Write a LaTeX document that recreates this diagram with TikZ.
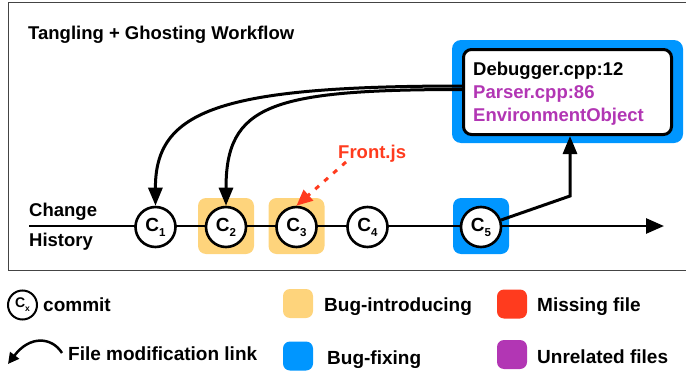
\documentclass[tikz,border=0pt]{standalone}
\usepackage{fontspec}
\setmainfont{Liberation Sans}[BoldFont={Liberation Sans Bold}]
\usetikzlibrary{arrows.meta,calc}
\definecolor{bugorange}{HTML}{FED47C}
\definecolor{bugblue}{HTML}{0096FF}
\definecolor{missred}{HTML}{FF3B1E}
\definecolor{unrelpurple}{HTML}{B236B4}
\definecolor{framegray}{HTML}{444444}
\newcommand{\cmt}[1]{C\raisebox{-5pt}{\fontsize{11.5}{11.5}\selectfont #1}}
\tikzset{
  commit/.style={circle, draw=black, line width=2.6pt, fill=white, minimum size=40pt, inner sep=0pt,
     font=\fontsize{19}{19}\selectfont\bfseries},
  hlbox/.style={rounded corners=8pt, minimum width=56pt, minimum height=56pt, inner sep=0pt},
  lbl/.style={font=\fontsize{18.5}{18.5}\selectfont\bfseries, inner sep=0pt, anchor=base west},
  leglbl/.style={font=\fontsize{19}{19}\selectfont\bfseries, inner sep=0pt, anchor=base west},
  legsq/.style={rounded corners=7pt, minimum width=30pt, minimum height=29pt, inner sep=0pt},
  link/.style={line width=3pt, -{Triangle[length=18pt,width=14pt]}},
}
\begin{document}
\begin{tikzpicture}[x=1pt,y=-1pt]
\useasboundingbox (0,0) rectangle (686,372);
% frame
\draw[framegray, line width=1pt] (686,2) -- (8,2) -- (8,270) -- (686,270);
% title
\node[lbl] (title) at (28,39) {Tangling + Ghosting Workflow};
% highlight squares
\node[hlbox, fill=bugorange] (h2) at (226,226) {};
\node[hlbox, fill=bugorange] (h3) at (296.5,226) {};
\node[hlbox, fill=bugblue] (h5) at (481,226) {};
% history line
\coordinate (hstart) at (29,226);
\coordinate (hend) at (664,226);
\draw[line width=2.8pt, -{Triangle[length=18pt,width=15pt]}] (hstart) -- (hend);
\node[lbl] (change) at (29,216.7) {Change};
\node[lbl] (history) at (29,246.5) {History};
% commits
\node[commit] (c1) at (155.5,227) {\cmt{1}};
\node[commit] (c2) at (226,227) {\cmt{2}};
\node[commit] (c3) at (296.5,227) {\cmt{3}};
\node[commit] (c4) at (367.5,227) {\cmt{4}};
\node[commit] (c5) at (481,227) {\cmt{5}};
% fixing box
\node[fill=bugblue, rounded corners=9pt, minimum width=231pt, minimum height=103pt, inner sep=0pt] (fixbox) at (567.5,91.5) {};
\node[draw=black, fill=white, line width=3pt, rounded corners=8pt, minimum width=208pt, minimum height=85pt, inner sep=0pt] (box) at (567.5,92) {};
\node[lbl] (f1) at (473,75) {Debugger.cpp:12};
\node[lbl, text=unrelpurple] (f2) at (473,98) {Parser.cpp:86};
\node[lbl, text=unrelpurple] (f3) at (473,121) {EnvironmentObject};
% modification links
\coordinate (s1) at (463,86);
\coordinate (s2) at (463,89.5);
\draw[link] (s1) .. controls (220,86) and (155,110) .. (c1.north);
\draw[link] (s2) .. controls (270,89.5) and (226,105) .. (c2.north);
\coordinate (corner) at (570,196);
\draw[link] (c5) -- (corner) -- (box.south -| corner);
% missing file
\node[lbl, text=missred] (front) at (338,158) {Front.js};
\coordinate (fjs) at (346,162);
\draw[missred, line width=3pt, dash pattern=on 5pt off 7pt, -{Triangle[length=16pt,width=14pt]}] (fjs) -- (c3.north);
% legend
\node[commit, minimum size=29pt, line width=2pt, font=\fontsize{14}{14}\selectfont\bfseries] (lc) at (22.5,305)
  {C\raisebox{-4pt}{\fontsize{8.5}{8.5}\selectfont x}};
\node[leglbl] (lcommit) at (43,311) {commit};
\node[legsq, fill=bugorange] (lo) at (298,303.5) {};
\node[leglbl] (lbugintro) at (324,311) {Bug-introducing};
\node[legsq, fill=missred] (lr) at (512,304) {};
\node[leglbl] (lmiss) at (537,311) {Missing file};
\coordinate (la) at (62,353);
\coordinate (lb) at (8,364);
\draw[line width=2.5pt, -{Triangle[length=11pt,width=11pt]}] (la) .. controls (52,337) and (30,335) .. (lb);
\node[leglbl] (lfile) at (68,360) {File modification link};
\node[legsq, fill=bugblue] (lbl2) at (298,356) {};
\node[leglbl] (lfix) at (327,364) {Bug-fixing};
\node[legsq, fill=unrelpurple] (lp) at (512,354.5) {};
\node[leglbl] (lunrel) at (537,363) {Unrelated files};
\end{tikzpicture}
\end{document}
